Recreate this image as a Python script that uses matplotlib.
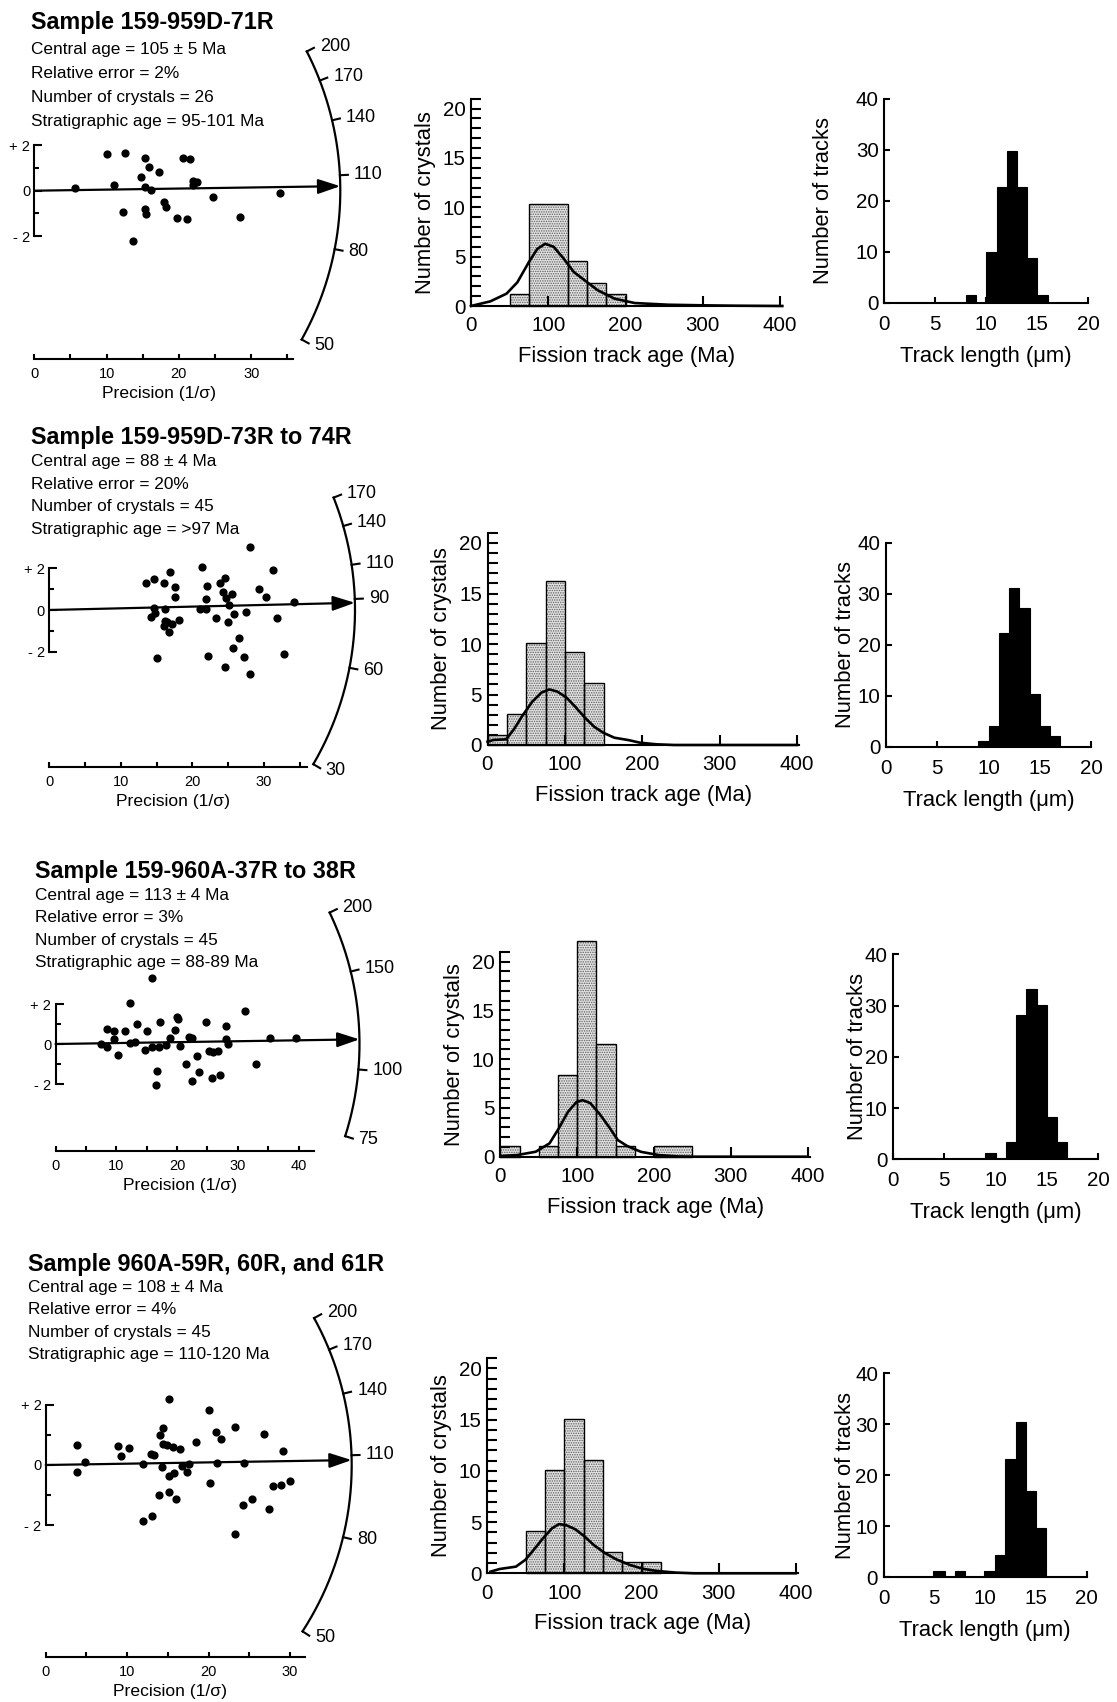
import numpy as np
import matplotlib
matplotlib.use("Agg")
import matplotlib.pyplot as plt
from matplotlib.ticker import MultipleLocator

plt.rcParams['font.family'] = ['Liberation Sans', 'DejaVu Sans']
plt.rcParams['hatch.linewidth'] = 0.7

# ---- sample info ----
titles = ['Sample 159-959D-71R', 'Sample 159-959D-73R to 74R',
          'Sample 159-960A-37R to 38R', 'Sample 960A-59R, 60R, and 61R']
central_age = [105, 88, 113, 108]
central_err = [5, 4, 4, 4]
rel_error = [2, 20, 3, 4]
n_crystals = [26, 45, 45, 45]
strat_age = ['95-101 Ma', '>97 Ma', '88-89 Ma', '110-120 Ma']

# ---- radial plot data: precision (1/sigma) and standardised estimate ----
prec1 = [5.6, 10.1, 11.0, 12.6, 12.3, 13.7, 14.7, 15.3, 15.8, 15.3, 16.1, 15.3, 15.5,
         17.3, 17.9, 18.2, 20.6, 21.6, 19.8, 21.1, 21.9, 22.0, 22.5, 24.7, 28.5, 34.0]
std1 = [0.10, 1.61, 0.25, 1.64, -0.95, -2.2, 0.61, 1.42, 1.05, 0.15, 0.03, -0.82, -1.04,
        0.83, -0.51, -0.70, 1.42, 1.37, -1.18, -1.23, 0.25, 0.42, 0.39, -0.29, -1.14, -0.12]

prec2 = [13.5, 14.7, 16.0, 16.9, 17.6, 17.6, 14.6, 14.8, 14.2, 16.2, 16.2, 16.0, 17.1,
         16.7, 18.2, 15.1, 21.3, 22.0, 21.9, 21.1, 21.9, 22.2, 23.9, 24.5, 24.2, 24.7,
         25.5, 25.1, 23.3, 24.9, 25.8, 26.5, 25.6, 24.5, 27.2, 27.5, 28.0, 28.1, 29.3,
         30.2, 31.3, 31.8, 32.8, 34.2, 16.4]
std2 = [1.28, 1.49, 1.28, 1.81, 1.12, 0.64, 0.08, -0.13, -0.35, 0.05, -0.53, -0.75, -0.69,
        -1.07, -0.50, -2.32, 2.06, 1.17, 0.51, 0.06, 0.06, -2.21, 1.28, 1.52, 0.88, 0.59,
        0.78, 0.24, -0.38, -0.59, -0.21, -1.33, -1.81, -2.75, -2.26, -0.10, -3.09, 3.04, 1.02,
        0.64, 1.92, -0.40, -2.10, 0.40, -0.60]

prec3 = [7.5, 8.5, 8.5, 9.6, 9.6, 10.2, 11.5, 12.3, 12.3, 13.0, 13.4, 14.7, 15.1, 15.8,
         15.9, 16.7, 16.5, 17.1, 17.2, 18.2, 18.9, 19.7, 20.0, 20.1, 20.5, 21.4, 22.0, 22.5,
         22.5, 23.3, 23.6, 24.8, 25.3, 25.9, 25.8, 26.7, 27.0, 28.0, 28.1, 28.3, 31.2, 33.0,
         35.2, 39.5]
std3 = [0.02, 0.73, -0.15, 0.65, 0.23, -0.55, 0.65, 2.07, 0.07, 0.12, 1.0, -0.28, 0.65, -0.17,
        3.28, -1.35, -2.07, -0.13, 1.1, -0.05, 0.28, 0.68, 1.35, 1.23, -0.10, -1.0, 0.33, 0.28,
        -1.83, -0.6, -1.42, 1.1, -0.33, -0.4, -1.72, -0.33, -1.57, 0.9, 0.25, 0.02, 1.67, -1.0,
        0.32, 0.32]

prec4 = [3.9, 3.9, 4.8, 8.9, 9.3, 10.2, 11.9, 11.9, 12.9, 13.0, 13.3, 13.9, 14.0, 14.3,
         14.4, 14.4, 14.9, 15.1, 15.2, 15.2, 15.7, 15.8, 16.0, 16.5, 16.7, 17.3, 17.6, 18.5,
         20.0, 20.2, 20.9, 21.0, 21.5, 23.2, 23.2, 24.2, 24.4, 25.4, 26.8, 27.4, 27.9, 28.9,
         29.1, 30.0]
std4 = [0.66, -0.22, 0.09, 0.62, 0.31, 0.56, -1.85, 0.02, 0.38, -1.68, 0.33, -0.99, 0.99, -0.08,
        1.24, 0.69, 0.66, 2.19, -0.35, -0.91, 0.61, -0.25, -1.14, 0.52, -0.03, -0.22, 0.03, 0.75,
        1.81, -0.6, 1.10, 0.08, 0.86, 1.27, -2.27, -1.31, 0.08, -1.12, 1.03, -1.45, -0.71, -0.66,
        0.45, -0.53]

# age scale on the arc (Ma) and the log scale that places it
arc_ticks = [[50, 80, 110, 140, 170, 200], [30, 60, 90, 110, 140, 170],
             [75, 100, 150, 200], [50, 80, 110, 140, 170, 200]]
arc_ref = [103.0, 84.4, 110.9, 106.0]
arc_k = [0.77, 0.564, 0.813, 0.862]

# ---- age histograms (Ma, number of crystals) ----
age_edges1 = [50, 75, 125, 150, 175, 200]
age_counts1 = [1.2, 10.3, 4.6, 2.3, 1.2]
age_edges2 = [0, 25, 50, 75, 100, 125, 150]
age_counts2 = [1.0, 3.1, 10.1, 16.2, 9.2, 6.1]
age_edges3 = [0, 25, 50, 75, 100, 125, 150, 175, 200, 250]
age_counts3 = [1.1, 0, 1.1, 8.4, 22.1, 11.6, 1.1, 0, 1.1]
age_edges4 = [50, 75, 100, 125, 150, 175, 200, 225]
age_counts4 = [4.1, 10.1, 15.1, 11.1, 2.1, 1.07, 1.07]

curve_x1 = [0, 25, 46, 60, 75, 86, 96, 107, 120, 133, 146, 164, 186, 212, 255, 299, 342, 403]
curve_y1 = [0, 0.47, 1.25, 2.4, 4.46, 5.8, 6.3, 6.0, 4.8, 3.45, 2.67, 1.6, 0.74, 0.3, 0.13,
            0.07, 0.03, 0]
curve_x2 = [0, 8, 24, 34, 46, 58, 70, 80, 90, 102, 114, 126, 138, 150, 164, 182, 197, 218,
            241, 400]
curve_y2 = [0.33, 0.5, 0.56, 1.54, 3.0, 4.3, 5.2, 5.5, 5.3, 4.7, 3.74, 2.7, 1.8, 1.2, 0.72,
            0.49, 0.23, 0.07, 0, 0]
curve_x3 = [0, 22, 46, 64, 76, 88, 99, 107, 117, 129, 141, 153, 165, 183, 206, 230, 254, 400]
curve_y3 = [0.07, 0.17, 0.51, 1.37, 2.9, 4.6, 5.6, 5.8, 5.5, 4.4, 3.1, 1.7, 1.1, 0.5, 0.17,
            0.03, 0, 0]
curve_x4 = [4, 16, 37, 49, 60, 72, 84, 93, 102, 114, 126, 138, 152, 167, 185, 203, 220, 244,
            268, 400]
curve_y4 = [0.16, 0.42, 0.65, 1.3, 2.28, 3.4, 4.4, 4.8, 4.7, 4.3, 3.6, 2.76, 2.0, 1.37, 0.81,
            0.42, 0.23, 0.07, 0, 0]

# ---- track length histograms (1 um bins from 0 to 20) ----
len_bins = list(range(20))
len_counts1 = [0, 0, 0, 0, 0, 0, 0, 0, 1.5, 0, 10, 22.7, 29.7, 22.7, 8.7, 1.5, 0, 0, 0, 0]
len_counts2 = [0, 0, 0, 0, 0, 0, 0, 0, 0, 1.2, 4.1, 22.2, 31.2, 27.2, 10.3, 4.1, 2.1, 0, 0, 0]
len_counts3 = [0, 0, 0, 0, 0, 0, 0, 0, 0, 1.3, 0, 3.3, 28.2, 33.2, 30.2, 8.2, 3.3, 0, 0, 0]
len_counts4 = [0, 0, 0, 0, 0, 1.3, 0, 1.3, 0, 0, 1.3, 4.4, 23.1, 30.4, 16.9, 9.6, 0, 0, 0, 0]

precs = [prec1, prec2, prec3, prec4]
stds = [std1, std2, std3, std4]
age_edges = [age_edges1, age_edges2, age_edges3, age_edges4]
age_counts = [age_counts1, age_counts2, age_counts3, age_counts4]
curves = [(curve_x1, curve_y1), (curve_x2, curve_y2), (curve_x3, curve_y3), (curve_x4, curve_y4)]
len_counts = [len_counts1, len_counts2, len_counts3, len_counts4]

# ---- layout (pixels in the 1117 x 1702 canvas) ----
W, H = 1117, 1702
fig = plt.figure(figsize=(W / 100, H / 100), dpi=100)


def px_axes(left, top, width, height):
    return fig.add_axes([left / W, 1 - (top + height) / H, width / W, height / H])


def px_text(x, y, s, **kw):
    fig.text(x / W, 1 - y / H, s, va='baseline', ha='left', **kw)


# radial: origin x, origin y, px per x unit, px per y unit, bottom axis y, axis end, arc radius
rad_geo = [(34.3, 190.7, 7.23, 22.8, 359, 35.8, 306),
           (49.0, 610.0, 7.17, 20.8, 766.7, 36.0, 306),
           (55.5, 1044.0, 6.08, 20.0, 1151.0, 42.5, 304),
           (45.7, 1465.0, 8.14, 30.2, 1657.0, 31.8, 306)]
head_pos = [(31, 29, 54, 24.0), (31, 444, 466, 22.7), (35, 878, 900, 22.4), (28, 1271, 1292, 22.4)]
# age hist: x at 0, x at 400, y at 0, px per crystal
age_geo = [(471, 780, 306, 9.87), (487.5, 797, 745, 10.1),
           (500.4, 807.6, 1156.7, 9.75), (487.4, 795.7, 1573.3, 10.25)]
# track hist: x at 0, x at 20, y at 0, y at 40
len_geo = [(884.3, 1088.3, 302.7, 99), (886, 1091, 746.7, 542.7),
           (893, 1098, 1159.3, 954.3), (883.6, 1086.6, 1577.3, 1373.3)]
len_ylab_off = [50, 30, 25, 28]

for i in range(4):
    # ---------- header text ----------
    tx, ty, iy, step = head_pos[i]
    px_text(tx, ty, titles[i], fontsize=16.8, fontweight='bold')
    lines = ['Central age = %d \u00b1 %d Ma' % (central_age[i], central_err[i]),
             'Relative error = %d%%' % rel_error[i],
             'Number of crystals = %d' % n_crystals[i],
             'Stratigraphic age = ' + strat_age[i]]
    for j, s in enumerate(lines):
        px_text(tx, iy + j * step, s, fontsize=12.4)

    # ---------- radial plot ----------
    ox, oy, sx, sy, yb, xend, R = rad_geo[i]
    ymin = -(yb - oy) / sy
    ax_h = yb - (oy - 2 * sy)
    ax = px_axes(ox, oy - 2 * sy, xend * sx, ax_h)
    ax.set_xlim(0, xend)
    ax.set_ylim(ymin, 2)
    ax.patch.set_visible(False)
    for s in ['top', 'right']:
        ax.spines[s].set_visible(False)
    ax.spines['left'].set_bounds(-2, 2)
    ax.spines['bottom'].set_bounds(0, xend)
    for s in ['left', 'bottom']:
        ax.spines[s].set_linewidth(1.5)
    ax.set_yticks([-2, 0, 2])
    ax.set_yticklabels(['- 2', '0', '+ 2'])
    ax.set_yticks([-1, 1], minor=True)
    ax.tick_params(axis='y', which='major', direction='in', length=6, width=1.5, labelsize=10.5, pad=3)
    ax.tick_params(axis='y', which='minor', direction='in', length=3.5, width=1.5)
    xmaxlab = 40 if xend > 40 else 30
    ax.set_xticks(np.arange(0, xmaxlab + 1, 10))
    ax.xaxis.set_minor_locator(MultipleLocator(5))
    ax.tick_params(axis='x', which='both', direction='in', length=3.5, width=1.5, labelsize=10.5, pad=6)
    ax.set_xlabel('Precision (1/\u03c3)', fontsize=12.6)
    ax.xaxis.set_label_coords(0.5 - 5 / (xend * sx), -27 / ax_h)

    ax.scatter(precs[i], stds[i], s=24, color='black', zorder=3, clip_on=False)

    lnref = np.log(arc_ref[i])
    ticks = np.array(arc_ticks[i], dtype=float)
    th = np.arctan(arc_k[i] * (np.log(ticks) - lnref))
    tt = np.linspace(th.min(), th.max(), 200)
    ax.plot(R * np.cos(tt) / sx, R * np.sin(tt) / sy, color='black', lw=1.6, clip_on=False)
    for a, t in zip(arc_ticks[i], th):
        c, s_ = np.cos(t), np.sin(t)
        ax.plot([R * c / sx, (R + 8) * c / sx], [R * s_ / sy, (R + 8) * s_ / sy],
                color='black', lw=1.5, clip_on=False)
        ax.text((R + 12) * c / sx + 0.3, (R + 12) * s_ / sy, str(a), fontsize=13,
                ha='left', va='center', clip_on=False)
    tc = np.arctan(arc_k[i] * (np.log(central_age[i]) - lnref))
    ax.annotate('', xy=(R * np.cos(tc) / sx, R * np.sin(tc) / sy), xytext=(0, 0),
                arrowprops=dict(arrowstyle='-|>,head_length=0.75,head_width=0.25',
                                mutation_scale=18, lw=1.6, color='black',
                                shrinkA=0, shrinkB=0), annotation_clip=False)

    # ---------- fission track age histogram ----------
    x0, x4, y0, u = age_geo[i]
    pxu = (x4 - x0) / 400
    ax = px_axes(x0, y0 - 21 * u, 403 * pxu, 21 * u)
    ax.set_xlim(0, 403)
    ax.set_ylim(0, 21)
    ax.patch.set_visible(False)
    for s in ['top', 'right']:
        ax.spines[s].set_visible(False)
    for s in ['left', 'bottom']:
        ax.spines[s].set_linewidth(1.5)
    e = np.array(age_edges[i], dtype=float)
    h = np.array(age_counts[i], dtype=float)
    m = h > 0
    ax.bar(e[:-1][m], h[m], width=np.diff(e)[m], align='edge', color='#e2e2e2',
           edgecolor='#5e5e5e', hatch='.......', linewidth=0, clip_on=False, zorder=1)
    ax.bar(e[:-1][m], h[m], width=np.diff(e)[m], align='edge', fill=False,
           edgecolor='black', linewidth=1.0, clip_on=False, zorder=2)
    ax.plot(curves[i][0], curves[i][1], color='black', lw=1.9, clip_on=False, zorder=3)
    ax.set_xticks([0, 100, 200, 300, 400])
    ax.set_yticks([0, 5, 10, 15, 20])
    ax.yaxis.set_minor_locator(MultipleLocator(1))
    ax.tick_params(axis='both', which='both', direction='in', length=7, width=1.5,
                   labelsize=14.8)
    ax.tick_params(axis='x', which='major', pad=7.5)
    ax.tick_params(axis='y', which='major', pad=4)
    ax.tick_params(axis='x', which='minor', length=0)
    ax.set_xlabel('Fission track age (Ma)', fontsize=15.8)
    ax.xaxis.set_label_coords(0.5, -40 / (21 * u))
    ax.set_ylabel('Number of crystals', fontsize=15.8)
    ax.yaxis.set_label_coords(-35 / (403 * pxu), 0.5)

    # ---------- track length histogram ----------
    lx0, lx20, ly0, ly40 = len_geo[i]
    ax = px_axes(lx0, ly40, lx20 - lx0, ly0 - ly40)
    ax.set_xlim(0, 20)
    ax.set_ylim(0, 40)
    ax.patch.set_visible(False)
    for s in ['top', 'right']:
        ax.spines[s].set_visible(False)
    for s in ['left', 'bottom']:
        ax.spines[s].set_linewidth(1.5)
    ax.bar(len_bins, len_counts[i], width=1, align='edge', color='black',
           edgecolor='black', linewidth=0.8)
    ax.set_xticks([0, 5, 10, 15, 20])
    ax.set_yticks([0, 10, 20, 30, 40])
    ax.tick_params(axis='both', direction='in', length=4.5, width=1.5, labelsize=14.8)
    ax.tick_params(axis='x', pad=8.5)
    ax.tick_params(axis='y', pad=4)
    ax.set_xlabel('Track length (\u03bcm)', fontsize=15.8)
    ax.xaxis.set_label_coords(0.5, -43 / (ly0 - ly40))
    ax.set_ylabel('Number of tracks', fontsize=15.8)
    ax.yaxis.set_label_coords(-len_ylab_off[i] / (lx20 - lx0), 0.5)

fig.savefig('out.png', dpi=100)
